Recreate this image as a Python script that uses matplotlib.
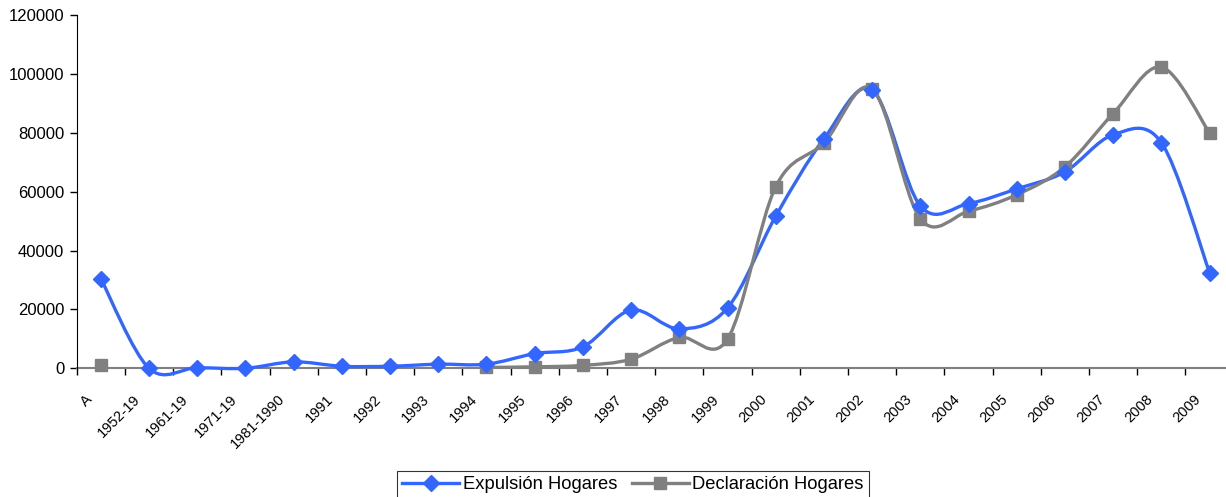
import numpy as np
import matplotlib
matplotlib.use('Agg')
import matplotlib.pyplot as plt
from matplotlib.path import Path
from matplotlib.patches import PathPatch
from matplotlib.lines import Line2D
import matplotlib.transforms as mtransforms

plt.rcParams['font.family'] = ['Liberation Sans', 'DejaVu Sans']

# %% data
categories = ['A', '1952-19', '1961-19', '1971-19', '1981-1990',
              '1991', '1992', '1993', '1994', '1995', '1996', '1997', '1998', '1999',
              '2000', '2001', '2002', '2003', '2004', '2005', '2006', '2007', '2008', '2009']

expulsion = [30500, 0, 200, 0, 2200, 700, 700, 1400, 1400, 5000, 7300, 19800, 13400, 20500,
             51700, 78000, 94600, 55200, 56000, 61000, 66800, 79400, 76700, 32500]

declaracion = [1000, np.nan, np.nan, np.nan, np.nan, np.nan, np.nan, np.nan, 300, 500, 1000,
               3100, 10500, 9900, 61700, 76600, 95000, 50800, 53400, 59000, 68500, 86600,
               102400, 80000]

blue = '#3366ff'
grey = '#808080'


def smooth_path(x, y):
    # excel-like smoothed line: bezier segments through the points, split at gaps
    x = np.asarray(x, float)
    y = np.asarray(y, float)
    verts, codes = [], []
    ok = ~np.isnan(y)
    i = 0
    n = len(y)
    while i < n:
        if not ok[i]:
            i += 1
            continue
        j = i
        while j + 1 < n and ok[j + 1]:
            j += 1
        if j > i:
            px, py = x[i:j + 1], y[i:j + 1]
            m = len(px)
            verts.append((px[0], py[0]))
            codes.append(Path.MOVETO)
            for k in range(m - 1):
                k0 = max(k - 1, 0)
                k3 = min(k + 2, m - 1)
                c1 = (px[k] + (px[k + 1] - px[k0]) / 6, py[k] + (py[k + 1] - py[k0]) / 6)
                c2 = (px[k + 1] - (px[k3] - px[k]) / 6, py[k + 1] - (py[k3] - py[k]) / 6)
                verts += [c1, c2, (px[k + 1], py[k + 1])]
                codes += [Path.CURVE4] * 3
        i = j + 1
    return Path(verts, codes)


x = np.arange(len(categories))

fig = plt.figure(figsize=(12.26, 4.97), dpi=100)
ax = fig.add_axes([76.7 / 1226, 1 - 368.3 / 497, 1157 / 1226, 353 / 497])

for vals, col in [(expulsion, blue), (declaracion, grey)]:
    ax.add_patch(PathPatch(smooth_path(x, vals), facecolor='none', edgecolor=col,
                           lw=2.4, capstyle='round', joinstyle='round', zorder=3,
                           clip_on=False))

ax.plot(x, declaracion, ls='none', marker='s', ms=9, color=grey, zorder=4, clip_on=False)
ax.plot(x, expulsion, ls='none', marker='D', ms=8, color=blue, zorder=5, clip_on=False)

ax.set_xlim(-0.5, len(categories) - 0.5)
ax.set_ylim(0, 120000)
ax.set_yticks(np.arange(0, 120001, 20000))
ax.tick_params(axis='y', labelsize=12, length=5, width=1, direction='out', pad=4)

ax.set_xticks(x)
ax.set_xticklabels(categories, rotation=45, ha='right', va='top', fontsize=10.5)
ax.set_xticks(np.arange(-0.5, len(categories)), minor=True)
ax.tick_params(axis='x', which='major', length=0, pad=17)
ax.tick_params(axis='x', which='minor', length=5, width=1, color='black')
offset = mtransforms.ScaledTranslation(-6 / 100, 0, fig.dpi_scale_trans)
for lab in ax.get_xticklabels():
    lab.set_transform(lab.get_transform() + offset)

for s in ['top', 'right']:
    ax.spines[s].set_visible(False)
ax.spines['left'].set_color('black')
ax.spines['bottom'].set_color(grey)
ax.spines['bottom'].set_linewidth(1.5)
ax.spines['bottom'].set_zorder(2)

handles = [Line2D([], [], color=blue, lw=2.4, marker='D', ms=8),
           Line2D([], [], color=grey, lw=2.4, marker='s', ms=9)]
fig.legend(handles, ['Expulsión Hogares', 'Declaración Hogares'], loc='lower center',
           bbox_to_anchor=(633 / 1226, -0.022), ncol=2, fontsize=13.2, frameon=True,
           fancybox=False, edgecolor='black', handlelength=3.1, handletextpad=0.2,
           columnspacing=0.8, borderpad=0.3).get_frame().set_linewidth(0.8)

fig.savefig('out.png', dpi=100)
